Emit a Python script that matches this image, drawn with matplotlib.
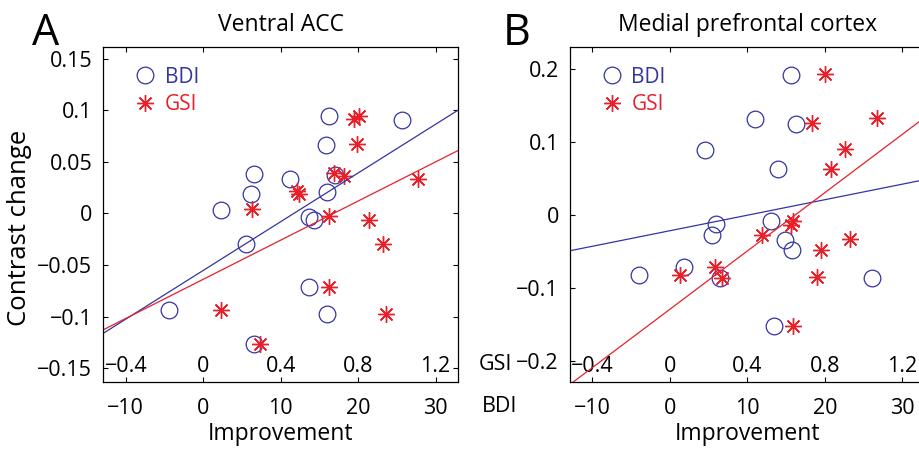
import numpy as np
import matplotlib
matplotlib.use("Agg")
import matplotlib.pyplot as plt
from matplotlib.lines import Line2D
from matplotlib.ticker import FuncFormatter

plt.rcParams['font.family'] = ['Open Sans', 'DejaVu Sans']

# panel A: Ventral ACC
a_bdi_x = [-4.4, 2.3, 5.5, 6.2, 6.5, 6.5, 11.2, 13.6, 14.3, 13.6, 16.0, 15.9, 16.2, 16.0, 17.0, 25.7]
a_bdi_y = [-0.094, 0.003, -0.030, 0.019, 0.038, -0.126, 0.033, -0.003, -0.006, -0.071, 0.021, 0.066, 0.094, -0.097, 0.037, 0.091]
a_gsi_x = [0.091, 0.254, 0.293, 0.483, 0.495, 0.650, 0.650, 0.676, 0.728, 0.781, 0.807, 0.793, 0.854, 0.931, 0.943, 1.109]
a_gsi_y = [-0.094, 0.004, -0.126, 0.022, 0.019, -0.002, -0.071, 0.039, 0.036, 0.092, 0.094, 0.067, -0.006, -0.030, -0.097, 0.033]
a_bdi_fit = (0.00472, -0.0552)   # slope per BDI point, intercept
a_gsi_fit = (0.0948, -0.0638)    # slope per GSI point, intercept

# panel B: Medial prefrontal cortex
b_bdi_x = [-4.0, 1.8, 4.5, 5.5, 5.9, 6.5, 11.0, 13.0, 13.9, 14.9, 13.4, 15.6, 15.8, 16.3, 26.1]
b_bdi_y = [-0.082, -0.072, 0.089, -0.028, -0.012, -0.087, 0.132, -0.008, 0.063, -0.034, -0.153, 0.192, -0.048, 0.125, -0.086]
b_gsi_x = [0.052, 0.234, 0.268, 0.476, 0.623, 0.636, 0.636, 0.736, 0.802, 0.779, 0.762, 0.831, 0.904, 0.930, 1.070]
b_gsi_y = [-0.082, -0.072, -0.086, -0.027, -0.014, -0.008, -0.153, 0.126, 0.193, -0.048, -0.085, 0.063, 0.090, -0.033, 0.133]
b_bdi_fit = (0.00213, -0.0218)
b_gsi_fit = (0.200, -0.1296)

bdi_ticks = [-10, 0, 10, 20, 30]
gsi_ticks = [-0.4, 0, 0.4, 0.8, 1.2]
gsi_per_bdi = 0.04   # the two improvement scales line up this way

blue = '#3434a2'
red = '#e8202a'
fs = 15.5


def fmt(v, pos=None):
    return ('%g' % v).replace('-', '\u2212')


def panel(ax, bx, by, gx, gy, bfit, gfit, yticks, ylim, title, letter, letter_x):
    xlim = (-12.9, 32.9)
    ax.plot(bx, by, 'o', mfc='none', mec=blue, ms=12, mew=0.9)
    ax.plot(np.array(gx) / gsi_per_bdi, gy, ls='none', marker=(8, 2, 0),
            color=red, ms=12, mew=1.0)
    xs = np.array(xlim)
    ax.plot(xs, bfit[1] + bfit[0] * xs, color=blue, lw=0.9)
    ax.plot(xs, gfit[1] + gfit[0] * xs * gsi_per_bdi, color=red, lw=0.9)
    ax.set_xlim(xlim)
    ax.set_ylim(ylim)
    ax.set_xticks(bdi_ticks)
    ax.set_yticks(yticks)
    ax.xaxis.set_major_formatter(FuncFormatter(fmt))
    ax.yaxis.set_major_formatter(FuncFormatter(fmt))
    ax.tick_params(direction='in', length=3.5, width=0.8, top=True, right=True,
                   labelsize=fs)
    ax.tick_params(axis='x', pad=12)
    ax.tick_params(axis='y', pad=8)
    for s in ax.spines.values():
        s.set_linewidth(0.9)
    sec = ax.secondary_xaxis(0.077, functions=(lambda b: b * gsi_per_bdi,
                                               lambda g: g / gsi_per_bdi))
    sec.set_xticks(gsi_ticks)
    sec.xaxis.set_major_formatter(FuncFormatter(fmt))
    sec.tick_params(length=0, pad=0, labelsize=fs)
    sec.spines['bottom'].set_visible(False)
    ax.set_xlabel('Improvement', fontsize=16.5, labelpad=2)
    ax.set_title(title, fontsize=16.5, pad=12)
    ax.text(letter_x, 1.007, letter, transform=ax.transAxes, fontsize=31,
            ha='left', va='baseline')
    handles = [Line2D([], [], ls='none', marker='o', mfc='none', mec=blue, color=blue, ms=12, mew=0.9),
               Line2D([], [], ls='none', marker=(8, 2, 0), color=red, ms=12, mew=1.0)]
    ax.legend(handles, ['BDI', 'GSI'], loc='upper left', bbox_to_anchor=(0.088, 0.942),
              frameon=False, fontsize=15, handlelength=1.0, handletextpad=0.45,
              borderpad=0, borderaxespad=0, labelspacing=0.32, labelcolor='linecolor')


fig = plt.figure(figsize=(9.19, 4.5), dpi=100)
ax1 = fig.add_axes([0.1124, 0.1518, 0.386, 0.7431])
ax2 = fig.add_axes([0.6202, 0.1518, 0.386, 0.7431])

panel(ax1, a_bdi_x, a_bdi_y, a_gsi_x, a_gsi_y, a_bdi_fit, a_gsi_fit,
      [-0.15, -0.1, -0.05, 0, 0.05, 0.1, 0.15], (-0.163, 0.161), 'Ventral ACC', 'A', -0.2)
panel(ax2, b_bdi_x, b_bdi_y, b_gsi_x, b_gsi_y, b_bdi_fit, b_gsi_fit,
      [-0.2, -0.1, 0, 0.1, 0.2], (-0.229, 0.230), 'Medial prefrontal cortex', 'B', -0.19)

ax1.set_ylabel('Contrast change', fontsize=18.5)
ax1.yaxis.set_label_coords(-0.2, 0.46)

fig.text(512 / 919, 1 - 364 / 450, 'GSI', fontsize=fs, ha='right', va='center')
fig.text(482 / 919, 1 - 406 / 450, 'BDI', fontsize=fs, ha='left', va='center')

fig.savefig('out.png', dpi=100)
